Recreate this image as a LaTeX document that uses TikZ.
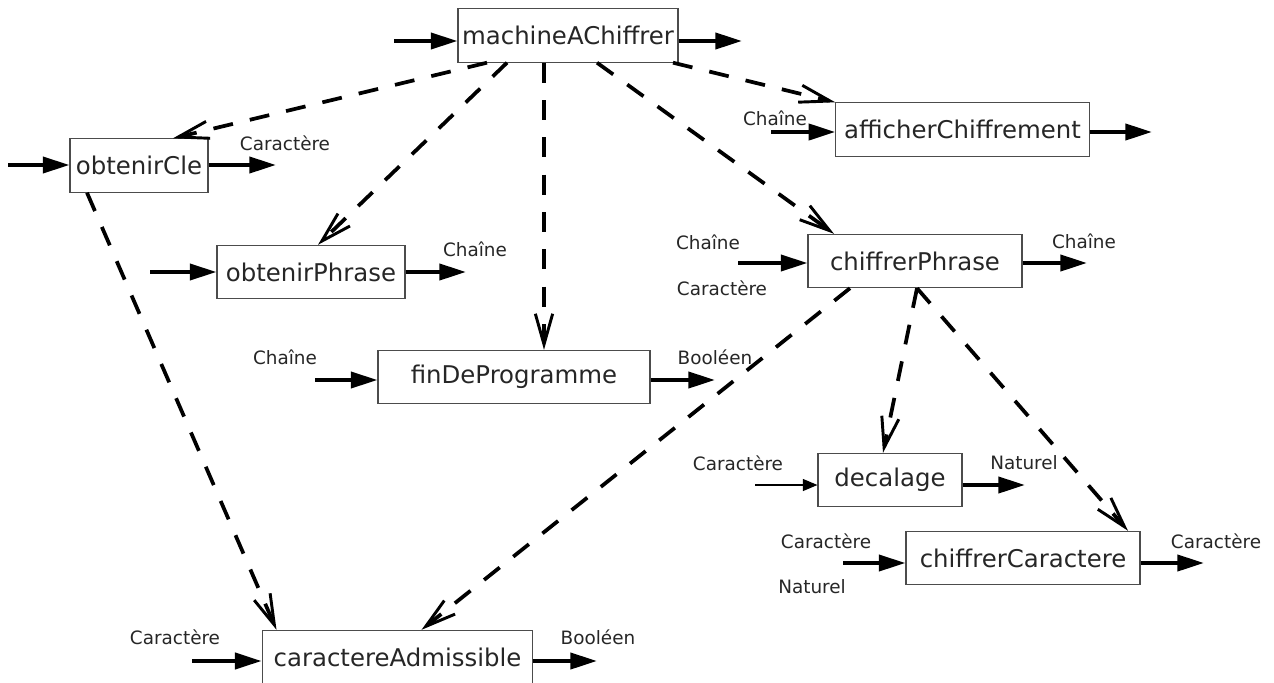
\documentclass[tikz,border=0pt]{standalone}
\usepackage{fontspec}
\setmainfont{DejaVu Sans}
\usetikzlibrary{arrows.meta,calc}

\tikzset{
	proc/.style={draw=black!70, line width=.8pt, minimum height=40pt, inner sep=0pt,
		text=black!85, font=\fontsize{18.3pt}{22pt}\selectfont},
	io/.style={line width=3pt, -{Triangle[length=20pt,width=12pt]}},
	uses/.style={line width=2.8pt, dash pattern=on 15pt off 13pt,
		-{Straight Barb[length=23pt,width=13pt,line width=2.2pt]}},
	lbl/.style={text=black!85, inner sep=0pt, font=\fontsize{13.8pt}{16pt}\selectfont}
}

\begin{document}
\begin{tikzpicture}[x=.75pt, y=-.75pt]
	\useasboundingbox (0,0) rectangle (1274,682);

	% les modules
	\node [proc, minimum width=165pt] (mac) at (568,35.5) {machineAChiffrer};
	\node [proc, minimum width=103.5pt] (cle) at (139,165.5) {obtenirCle};
	\node [proc, minimum width=190pt] (aff) at (962.5,129.5) {afficherChiffrement};
	\node [proc, minimum width=141pt] (phr) at (311,272) {obtenirPhrase};
	\node [proc, minimum width=204pt] (fin) at (514,377) {finDeProgramme};
	\node [proc, minimum width=160.5pt] (cph) at (915,261) {chiffrerPhrase};
	\node [proc, minimum width=108pt] (dec) at (890,480) {decalage};
	\node [proc, minimum width=175.5pt] (ccar) at (1023,558) {chiffrerCaractere};
	\node [proc, minimum width=203pt] (adm) at (397.5,657) {caractereAdmissible};

	% entrees et sorties
	\coordinate (macIn) at (394,41);
	\coordinate (macOut) at (742,41);
	\draw [io] (macIn) -- (macIn -| mac.west);
	\draw [io] (mac.east |- macOut) -- (macOut);

	\coordinate (cleIn) at (8,165);
	\coordinate (cleOut) at (276,165);
	\draw [io] (cleIn) -- (cleIn -| cle.west);
	\draw [io] (cle.east |- cleOut) -- (cleOut);
	\node [lbl] (cleO) at (285,143) {Caractère};

	\coordinate (affIn) at (771,132);
	\coordinate (affOut) at (1152,132);
	\draw [io] (affIn) -- (affIn -| aff.west);
	\draw [io] (aff.east |- affOut) -- (affOut);
	\node [lbl] (affI) at (775,118) {Chaîne};

	\coordinate (phrIn) at (150,272);
	\coordinate (phrOut) at (466,272);
	\draw [io] (phrIn) -- (phrIn -| phr.west);
	\draw [io] (phr.east |- phrOut) -- (phrOut);
	\node [lbl] (phrO) at (475,249) {Chaîne};

	\coordinate (finIn) at (315,380);
	\coordinate (finOut) at (715,380);
	\draw [io] (finIn) -- (finIn -| fin.west);
	\draw [io] (fin.east |- finOut) -- (finOut);
	\node [lbl] (finI) at (285,357) {Chaîne};
	\node [lbl] (finO) at (715,357) {Booléen};

	\coordinate (cphIn) at (738,263);
	\coordinate (cphOut) at (1087,263);
	\draw [io] (cphIn) -- (cphIn -| cph.west);
	\draw [io] (cph.east |- cphOut) -- (cphOut);
	\node [lbl] (cphIa) at (708,242) {Chaîne};
	\node [lbl] (cphIb) at (722,288) {Caractère};
	\node [lbl] (cphO) at (1084,241) {Chaîne};

	\coordinate (decIn) at (755,485);
	\coordinate (decOut) at (1025,485);
	\draw [line width=1pt, -{Triangle[length=11pt,width=9pt]}] (decIn) -- (decIn -| dec.west);
	\draw [io] (dec.east |- decOut) -- (decOut);
	\node [lbl] (decI) at (738,463) {Caractère};
	\node [lbl] (decO) at (1024,463) {Naturel};

	\coordinate (ccarIn) at (843,563);
	\coordinate (ccarOut) at (1204,563);
	\draw [io] (ccarIn) -- (ccarIn -| ccar.west);
	\draw [io] (ccar.east |- ccarOut) -- (ccarOut);
	\node [lbl] (ccarIa) at (826,541) {Caractère};
	\node [lbl] (ccarIb) at (812,587) {Naturel};
	\node [lbl] (ccarO) at (1216,541) {Caractère};

	\coordinate (admIn) at (192,661);
	\coordinate (admOut) at (597,661);
	\draw [io] (admIn) -- (admIn -| adm.west);
	\draw [io] (adm.east |- admOut) -- (admOut);
	\node [lbl] (admI) at (175,637) {Caractère};
	\node [lbl] (admO) at (598,637) {Booléen};

	% appels
	\draw [uses] ($(mac.south)+(-81,0)$) -- ($(cle.north)+(34,0)$);
	\draw [uses] ($(mac.south)+(-61,0)$) -- ($(phr.north)+(7,0)$);
	\draw [uses] ($(mac.south)+(-24,0)$) -- ($(fin.north)+(30,0)$);
	\draw [uses] ($(mac.south)+(29,0)$) -- ($(cph.north)+(-81,0)$);
	\draw [uses] ($(mac.south)+(105,0)$) -- (aff.north west);
	\draw [uses] ($(cle.south)+(-52,0)$) -- ($(adm.north)+(-121,0)$);
	\draw [uses] ($(cph.south)+(-65,0)$) -- ($(adm.north)+(24,0)$);
	\draw [uses] ($(cph.south)+(2,0)$) -- ($(dec.north)+(-7,0)$);
	\draw [uses] ($(cph.south)+(2,0)$) -- ($(ccar.north)+(105,0)$);
\end{tikzpicture}
\end{document}
